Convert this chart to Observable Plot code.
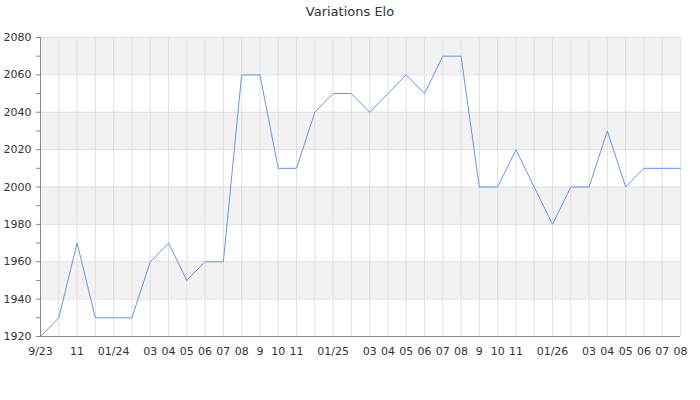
<!DOCTYPE html>
<html>
<head>
<meta charset="utf-8">
<script src="https://cdn.jsdelivr.net/npm/d3@7"></script>
<script src="https://cdn.jsdelivr.net/npm/@observablehq/plot@0.6"></script>
<style>
  body { margin: 0; background: #fff; font-family: "DejaVu Sans", sans-serif; }
  #title { height: 24px; line-height: 24px; text-align: center; font-size: 13px; color: #333; }
</style>
</head>
<body>
<div id="title">Variations Elo</div>
<div id="chart"></div>
<script>
// ----------------- data -----------------
const months = [
  "2023-09","2023-10","2023-11","2023-12",
  "2024-01","2024-02","2024-03","2024-04","2024-05","2024-06","2024-07","2024-08","2024-09","2024-10","2024-11","2024-12",
  "2025-01","2025-02","2025-03","2025-04","2025-05","2025-06","2025-07","2025-08","2025-09","2025-10","2025-11","2025-12",
  "2026-01","2026-02","2026-03","2026-04","2026-05","2026-06","2026-07","2026-08"
];
const elo = [
  1920,1930,1970,1930,
  1930,1930,1960,1970,1950,1960,1960,2060,2060,2010,2010,2040,
  2050,2050,2040,2050,2060,2050,2070,2070,2000,2000,2020,2000,
  1980,2000,2000,2030,2000,2010,2010,2010
];
const tickLabels = [
  "9/23","","11","",
  "01/24","","03","04","05","06","07","08","9","10","11","",
  "01/25","","03","04","05","06","07","08","9","10","11","",
  "01/26","","03","04","05","06","07","08"
];
const bandStarts = [1940, 1980, 2020, 2060]; // grey stripes, 20 Elo high

// --------------- chart -----------------
const data = months.map((m, i) => ({ month: m, elo: elo[i] }));
const bands = bandStarts.map(b => ({ y1: b, y2: b + 20 }));
const labelOf = new Map(months.map((m, i) => [m, tickLabels[i]]));

const fig = Plot.plot({
  width: 700, height: 376,
  marginLeft: 40, marginRight: 20, marginTop: 13, marginBottom: 64,
  style: { fontFamily: "DejaVu Sans, sans-serif", fontSize: "11px", color: "#333", background: "#fff" },
  x: { type: "point", domain: months, padding: 0, round: false, label: null },
  y: { domain: [1920, 2080], label: null },
  marks: [
    Plot.rect(bands, { y1: "y1", y2: "y2", fill: "#f2f2f2" }),
    Plot.gridX(months, { stroke: "#e0e0e0", strokeOpacity: 1 }),
    Plot.gridY(d3.range(1920, 2081, 20), { stroke: "#e0e0e0", strokeOpacity: 1 }),
    Plot.axisX(months, { tickSize: 0, tickPadding: 11, tickFormat: d => labelOf.get(d), label: null }),
    Plot.axisY(d3.range(1920, 2081, 10), { tickSize: 4, tickPadding: 5, stroke: "#888", tickFormat: d => d % 20 === 0 ? String(d) : "", label: null }),
    Plot.ruleY([1920], { stroke: "#888" }),
    Plot.ruleX([months[0]], { stroke: "#888" }),
    Plot.line(data, { x: "month", y: "elo", stroke: "#6495ed", strokeWidth: 1 })
  ]
});
document.getElementById("chart").appendChild(fig);
</script>
</body>
</html>
